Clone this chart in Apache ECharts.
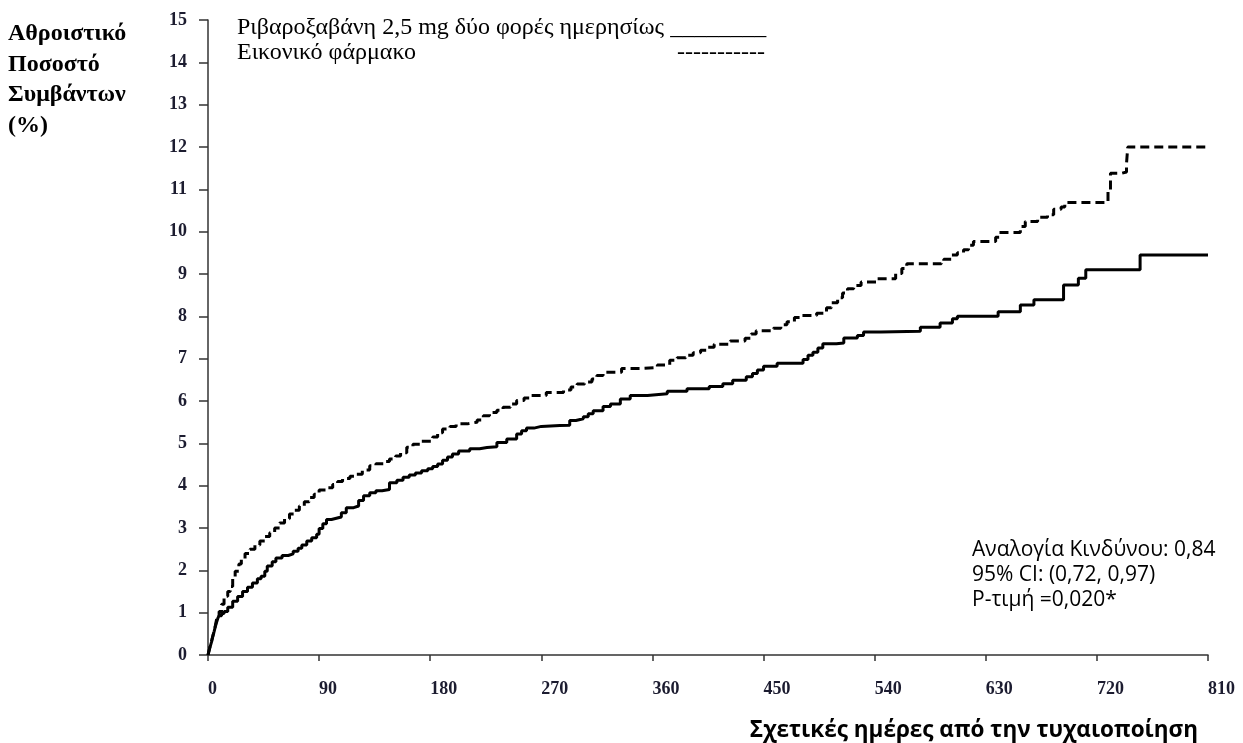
<!DOCTYPE html>
<html>
<head>
<meta charset="utf-8">
<script src="https://cdn.jsdelivr.net/npm/echarts@6/dist/echarts.min.js"></script>
<style>
  html, body { margin: 0; padding: 0; background: #fff; }
  #chart { width: 1243px; height: 743px; }
</style>
</head>
<body>
<div id="chart"></div>
<script>
// Ριβαροξαβάνη 2,5 mg (solid)
const rivaDays = [0, 1, 2, 3, 4, 5, 6, 7, 8, 9, 11, 13, 16, 20, 24, 28, 32, 36, 40, 43, 46, 48, 52, 55, 60, 65, 69, 73, 76, 80, 84, 88, 90, 93, 96, 100, 104, 108, 112, 118, 122, 126, 131, 136, 141, 147, 153, 158, 163, 168, 173, 178, 182, 186, 190, 194, 198, 203, 212, 220, 226, 234, 242, 250, 254, 258, 264, 270, 285, 293, 298, 304, 308, 312, 320, 326, 334, 342, 356, 372, 388, 406, 417, 425, 436, 441, 445, 450, 461, 482, 486, 490, 494, 498, 509, 515, 526, 531, 545, 577, 593, 603, 607, 640, 658, 669, 693, 705, 711, 755, 810];
const rivaPct = [0, 0.12, 0.22, 0.32, 0.45, 0.56, 0.68, 0.78, 0.87, 0.93, 0.98, 1.03, 1.13, 1.27, 1.38, 1.5, 1.6, 1.7, 1.8, 1.86, 1.98, 2.1, 2.2, 2.29, 2.35, 2.39, 2.45, 2.52, 2.6, 2.69, 2.77, 2.85, 2.99, 3.1, 3.2, 3.23, 3.26, 3.36, 3.48, 3.52, 3.65, 3.76, 3.83, 3.88, 3.91, 4.07, 4.13, 4.2, 4.25, 4.3, 4.35, 4.4, 4.45, 4.51, 4.6, 4.68, 4.75, 4.82, 4.87, 4.9, 4.92, 5.02, 5.1, 5.22, 5.3, 5.36, 5.4, 5.42, 5.43, 5.54, 5.58, 5.63, 5.7, 5.77, 5.87, 5.93, 6.05, 6.13, 6.17, 6.23, 6.29, 6.34, 6.41, 6.49, 6.57, 6.65, 6.73, 6.82, 6.89, 6.98, 7.08, 7.15, 7.25, 7.35, 7.37, 7.49, 7.55, 7.63, 7.65, 7.74, 7.84, 7.94, 8.0, 8.11, 8.27, 8.39, 8.74, 8.9, 9.1, 9.45, 9.45];

// Εικονικό φάρμακο (dashed)
const placeboDays = [0, 1, 2, 3, 4, 5, 6, 7, 9, 11, 13, 16, 18, 20, 22, 25, 27, 30, 34, 38, 42, 46, 50, 54, 58, 62, 66, 70, 74, 78, 82, 86, 90, 96, 101, 105, 109, 115, 120, 125, 131, 136, 142, 147, 152, 156, 161, 166, 172, 182, 186, 190, 196, 201, 210, 218, 223, 228, 234, 239, 245, 250, 256, 261, 274, 288, 294, 299, 305, 311, 315, 320, 335, 350, 364, 374, 380, 387, 393, 399, 405, 410, 423, 435, 440, 444, 458, 464, 469, 475, 480, 493, 501, 505, 510, 514, 518, 523, 529, 542, 557, 562, 566, 594, 596, 602, 607, 612, 616, 620, 638, 641, 658, 662, 672, 680, 685, 691, 694, 729, 731, 740, 744, 745, 810];
const placeboPct = [0, 0.12, 0.25, 0.35, 0.46, 0.56, 0.7, 0.85, 1.03, 1.2, 1.39, 1.5, 1.62, 1.8, 1.98, 2.15, 2.26, 2.4, 2.5, 2.6, 2.69, 2.8, 2.89, 3.0, 3.12, 3.22, 3.33, 3.42, 3.52, 3.62, 3.72, 3.8, 3.9, 3.95, 4.03, 4.1, 4.17, 4.22, 4.27, 4.37, 4.47, 4.52, 4.57, 4.63, 4.7, 4.78, 4.91, 4.98, 5.05, 5.15, 5.25, 5.34, 5.4, 5.46, 5.5, 5.55, 5.65, 5.73, 5.78, 5.85, 5.93, 6.01, 6.07, 6.13, 6.2, 6.26, 6.33, 6.4, 6.45, 6.52, 6.6, 6.68, 6.77, 6.79, 6.85, 6.96, 7.02, 7.08, 7.14, 7.2, 7.27, 7.34, 7.42, 7.48, 7.58, 7.66, 7.72, 7.8, 7.87, 7.97, 8.02, 8.07, 8.2, 8.32, 8.44, 8.55, 8.65, 8.73, 8.81, 8.89, 9.01, 9.13, 9.24, 9.3, 9.35, 9.45, 9.5, 9.57, 9.68, 9.77, 9.87, 9.98, 10.12, 10.24, 10.34, 10.4, 10.53, 10.58, 10.69, 10.99, 11.38, 11.41, 11.61, 12.0, 12.0];

// axis ticks
const xMax = 810;
const xStep = 90;
const yMax = 15;
const yStep = 1;

const rivaLabel = 'Ριβαροξαβάνη 2,5 mg δύο φορές ημερησίως ________';
const placeboLabel = 'Εικονικό φάρμακο';
const yTitle = 'Αθροιστικό\nΠοσοστό\nΣυμβάντων\n(%)';
const xTitle = 'Σχετικές ημέρες από την τυχαιοποίηση';
const statsText = ['Αναλογία Κινδύνου: 0,84', '95% CI: (0,72, 0,97)', 'P-τιμή =0,020*'];

const serif = '"Liberation Serif", "DejaVu Serif", serif';
const sans = '"Open Sans", "Noto Sans", sans-serif';

const chart = echarts.init(document.getElementById('chart'));

const option = {
  animation: false,
  backgroundColor: '#fff',
  grid: { left: 208, right: 35, top: 20, bottom: 88 },
  xAxis: {
    type: 'value',
    min: 0,
    max: xMax,
    interval: xStep,
    splitLine: { show: false },
    axisLine: { lineStyle: { color: '#333', width: 1.5 } },
    axisTick: { length: 6, lineStyle: { color: '#333', width: 1.5 } },
    axisLabel: {
      margin: 25, align: 'left', fontFamily: serif, fontWeight: 'bold',
      fontSize: 18, color: '#1c1c30'
    }
  },
  yAxis: {
    type: 'value',
    min: 0,
    max: yMax,
    interval: yStep,
    splitLine: { show: false },
    axisLine: { show: true, lineStyle: { color: '#333', width: 1.5 } },
    axisTick: { show: true, length: 9, lineStyle: { color: '#333', width: 1.5 } },
    axisLabel: { margin: 21, fontFamily: serif, fontWeight: 'bold', fontSize: 18, color: '#1c1c30' }
  },
  series: [
    {
      name: placeboLabel,
      type: 'line',
      step: 'end',
      showSymbol: false,
      data: placeboDays.map((d, i) => [d, placeboPct[i]]),
      lineStyle: { color: '#000', width: 3, type: [9, 5] }
    },
    {
      name: rivaLabel,
      type: 'line',
      step: 'end',
      showSymbol: false,
      data: rivaDays.map((d, i) => [d, rivaPct[i]]),
      lineStyle: { color: '#000', width: 3 }
    }
  ],
  graphic: [
    {
      type: 'text', left: 8, top: 19,
      style: { text: yTitle, font: 'bold 24px ' + serif, lineHeight: 30.5, fill: '#000' }
    },
    {
      type: 'text', left: 237, top: 16,
      style: { text: rivaLabel, font: '24px ' + serif, fill: '#000' }
    },
    {
      type: 'text', left: 237, top: 41,
      style: { text: placeboLabel, font: '24px ' + serif, fill: '#000' }
    },
    {
      type: 'text', left: 677, top: 41,
      style: { text: '-----------', font: '24px ' + serif, fill: '#000' }
    },
    {
      type: 'text', left: 972, top: 538,
      style: { text: statsText.join('\n'), font: '21px ' + sans, lineHeight: 25, fill: '#000' }
    },
    {
      type: 'text', right: 45, top: 719,
      style: { text: xTitle, font: 'bold 22.5px ' + sans, fill: '#000' }
    }
  ]
};

chart.setOption(option);
</script>
</body>
</html>
